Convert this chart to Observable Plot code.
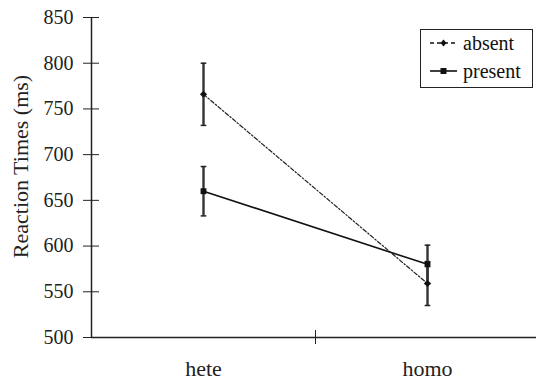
<!DOCTYPE html>
<html>
<head>
<meta charset="utf-8">
<script src="https://cdn.jsdelivr.net/npm/d3@7"></script>
<script src="https://cdn.jsdelivr.net/npm/@observablehq/plot@0.6"></script>
<style>
  body { margin: 0; background: #fff; }
  #wrap { position: relative; width: 536px; height: 382px; font-family: "Liberation Serif", "DejaVu Serif", serif; overflow: hidden; }
  #wrap svg text { font-family: "Liberation Serif", "DejaVu Serif", serif; }
  #legend { position: absolute; left: 420px; top: 29px; width: 111px; height: 57px; border: 1.5px solid #222; background: #fff; font-size: 20px; color: #111; }
  .row { position: absolute; left: 8px; display: flex; align-items: center; }
  .row svg { margin-right: 5px; }
</style>
</head>
<body>
<div id="wrap"></div>
<script>
const categories = ["hete", "homo"];
const absentRT = [766, 559];
const absentLo = [732, 535];
const absentHi = [800, 583];
const presentRT = [660, 580];
const presentLo = [633, 559];
const presentHi = [687, 601];
const yTicks = [500, 550, 600, 650, 700, 750, 800, 850];
const seriesNames = ["absent", "present"];

const rows = [];
categories.forEach((c, i) => {
  rows.push({series: "absent", x: i + 0.5, cat: c, rt: absentRT[i], lo: absentLo[i], hi: absentHi[i]});
  rows.push({series: "present", x: i + 0.5, cat: c, rt: presentRT[i], lo: presentLo[i], hi: presentHi[i]});
});
const absent = rows.filter(d => d.series === "absent");
const present = rows.filter(d => d.series === "present");

const capSymbol = {
  draw(ctx, size) {
    const w = Math.sqrt(size);
    ctx.moveTo(-w, 0); ctx.lineTo(w, 0);
  }
};

const boundaries = d3.range(1, categories.length);

const plot = Plot.plot({
  width: 536,
  height: 382,
  marginLeft: 91,
  marginRight: -3,
  marginTop: 17,
  marginBottom: 45,
  style: {fontFamily: "'Liberation Serif', serif", fontSize: "20px", color: "#222", background: "#fff", overflow: "visible"},
  x: {domain: [0, categories.length], axis: null},
  y: {domain: [500, 850], axis: null},
  marks: [
    Plot.ruleX([0], {stroke: "#222", strokeWidth: 1.5}),
    Plot.ruleY([500], {stroke: "#222", strokeWidth: 1.5}),
    Plot.axisY({ticks: yTicks, tickSize: 16, dx: 8, tickPadding: 10, label: null, stroke: "#222", fill: "#222", fontSize: 20}),
    Plot.axisX({ticks: boundaries, tickSize: 14, dy: -7, tickFormat: () => "", label: null, stroke: "#222"}),
    Plot.axisX({ticks: categories.map((c, i) => i + 0.5), tickFormat: v => categories[Math.floor(v)], tickSize: 0, tickPadding: 23, label: null, fontSize: 22, fill: "#222"}),
    Plot.text(["Reaction Times (ms)"], {frameAnchor: "left", textAnchor: "middle", dx: -71, dy: -11, rotate: -90, fontSize: 22, fill: "#222"}),
    // error bars
    Plot.ruleX(rows, {x: "x", y1: "lo", y2: "hi", stroke: "#333", strokeWidth: 2.4}),
    Plot.dot(rows, {x: "x", y: "lo", symbol: capSymbol, r: 1.6, stroke: "#222", strokeWidth: 1.5}),
    Plot.dot(rows, {x: "x", y: "hi", symbol: capSymbol, r: 1.6, stroke: "#222", strokeWidth: 1.5}),
    // lines
    Plot.line(absent, {x: "x", y: "rt", stroke: "#222", strokeWidth: 1.2, strokeDasharray: "4,2,1.5,2"}),
    Plot.line(present, {x: "x", y: "rt", stroke: "#111", strokeWidth: 1.6}),
    Plot.dot(absent, {x: "x", y: "rt", symbol: "diamond2", r: 3.2, fill: "#111", stroke: "none"}),
    Plot.dot(present, {x: "x", y: "rt", symbol: "square", r: 3.3, fill: "#111", stroke: "none"})
  ]
});

const wrap = document.getElementById("wrap");
wrap.appendChild(plot);

const legend = document.createElement("div");
legend.id = "legend";
seriesNames.forEach((name, i) => {
  const row = document.createElement("div");
  row.className = "row";
  row.style.top = (i === 0 ? 1 : 29) + "px";
  const dashed = name === "absent";
  row.innerHTML = `<svg width="29" height="24">
    <line x1="1" x2="28" y1="12" y2="12" stroke="#111" stroke-width="${dashed ? 1.3 : 1.6}" ${dashed ? 'stroke-dasharray="4,3"' : ''}/>
    ${dashed ? '<path d="M14.5,8.5 L17.5,12 L14.5,15.5 L11.5,12 Z" fill="#111"/>' : '<rect x="11.5" y="9" width="6" height="6" fill="#111"/>'}
  </svg><span>${name}</span>`;
  legend.appendChild(row);
});
wrap.appendChild(legend);
</script>
</body>
</html>
